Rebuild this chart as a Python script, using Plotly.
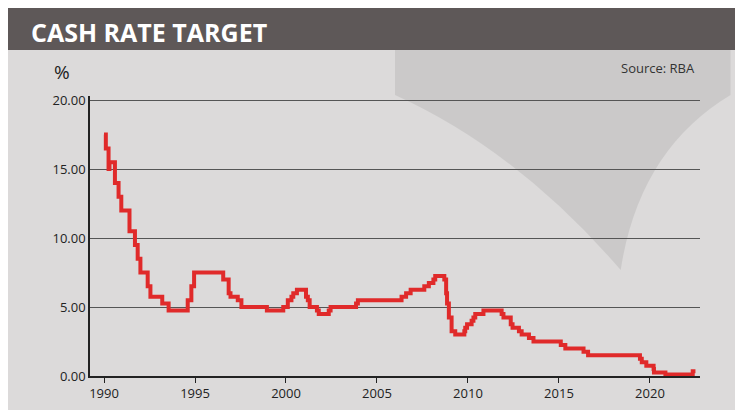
import plotly.graph_objects as go

# RBA cash rate target: change dates (decimal years) and new rate (%)
dates = [1990.0, 1990.1, 1990.25, 1990.3, 1990.6, 1990.8, 1990.95, 1991.3, 1991.4, 1991.7, 1991.85,
         1992.0, 1992.4, 1992.55, 1993.2, 1993.55, 1994.6, 1994.8, 1994.95, 1996.55, 1996.85,
         1996.95, 1997.35, 1997.55, 1998.95, 1999.85, 2000.1, 2000.3, 2000.4, 2000.6, 2001.1,
         2001.2, 2001.3, 2001.7, 2001.8, 2002.35, 2002.45, 2003.85, 2003.95, 2005.2, 2006.35,
         2006.6, 2006.85, 2007.6, 2007.85, 2008.1, 2008.2, 2008.7, 2008.8, 2008.85, 2008.95,
         2009.1, 2009.3, 2009.8, 2009.85, 2009.95, 2010.2, 2010.3, 2010.4, 2010.85, 2011.85,
         2011.95, 2012.35, 2012.45, 2012.8, 2012.95, 2013.35, 2013.6, 2015.1, 2015.35, 2016.35,
         2016.6, 2019.45, 2019.55, 2019.8, 2020.2, 2020.22, 2020.85, 2022.35, 2022.5]
rates = [17.5, 16.5, 15.0, 15.5, 14.0, 13.0, 12.0, 12.0, 10.5, 9.5, 8.5,
         7.5, 6.5, 5.75, 5.25, 4.75, 5.5, 6.5, 7.5, 7.0, 6.0,
         5.75, 5.5, 5.0, 4.75, 5.0, 5.5, 5.75, 6.0, 6.25, 5.75,
         5.5, 5.0, 4.75, 4.5, 4.75, 5.0, 5.25, 5.5, 5.5, 5.75,
         6.0, 6.25, 6.5, 6.75, 7.0, 7.25, 7.0, 6.0, 5.25, 4.25,
         3.25, 3.0, 3.25, 3.5, 3.75, 4.0, 4.25, 4.5, 4.75, 4.5,
         4.25, 3.75, 3.5, 3.25, 3.0, 2.75, 2.5, 2.25, 2.0, 1.75,
         1.5, 1.25, 1.0, 0.75, 0.5, 0.25, 0.1, 0.35, 0.35]
x_ticks = [1990, 1995, 2000, 2005, 2010, 2015, 2020]
y_ticks = [0, 5, 10, 15, 20]

# the page adds an 8px body margin, so positions are shifted by OFF
OFF = 8
H, T, B = 410, 88, 42
PH = H - T - B


def py(pixel_y):
    # screen pixel row -> paper coordinate
    return (H - B - (pixel_y - OFF)) / PH


fig = go.Figure(go.Scatter(x=dates, y=rates, mode="lines", line_shape="hv",
                           line=dict(color="#e02a2a", width=4)))

fig.update_layout(
    width=743, height=H, margin=dict(l=82, r=51, t=T, b=B, autoexpand=False),
    paper_bgcolor="#dcdada", plot_bgcolor="rgba(0,0,0,0)", showlegend=False,
    font=dict(family="Open Sans", color="#222", size=13),
    xaxis=dict(range=[1989.23, 2022.75], tickvals=x_ticks, showgrid=False,
               showline=True, linecolor="#222", linewidth=1.5, ticks="outside",
               ticklen=5, tickcolor="#222", zeroline=False),
    yaxis=dict(range=[0, 20.3], tickvals=y_ticks, tickformat=".2f", showgrid=True,
               gridcolor="#555", gridwidth=1, showline=True, linecolor="#222",
               linewidth=1.5, zeroline=False, ticks=""),
    shapes=[
        dict(type="path", xref="paper", yref="paper", layer="below",
             path=f"M 0.5 {py(95)} Q 0.7 {py(150)} 0.87 {py(270)} Q 0.9 {py(150)} 1.05 {py(95)} "
                  f"L 1.05 {py(50)} L 0.5 {py(50)} Z",
             fillcolor="rgba(130,130,130,0.18)", line_width=0),
        dict(type="rect", xref="paper", yref="paper", x0=-0.2, x1=1.2, y0=py(50), y1=py(0),
             fillcolor="#5e5858", line_width=0, layer="below"),
    ],
    annotations=[
        dict(text="<b>CASH RATE TARGET</b>", xref="paper", yref="paper", x=-0.1, y=py(32),
             xanchor="left", yanchor="middle", showarrow=False,
             font=dict(family="Open Sans", size=25, color="white")),
        dict(text="%", xref="paper", yref="paper", x=-0.03, y=py(72), xanchor="right",
             yanchor="middle", showarrow=False, font=dict(size=19, color="#222")),
        dict(text="Source: RBA", xref="paper", yref="paper", x=0.995, y=py(68), xanchor="right",
             yanchor="middle", showarrow=False, font=dict(size=13, color="#333")),
    ],
)

fig.write_html("out.html")
